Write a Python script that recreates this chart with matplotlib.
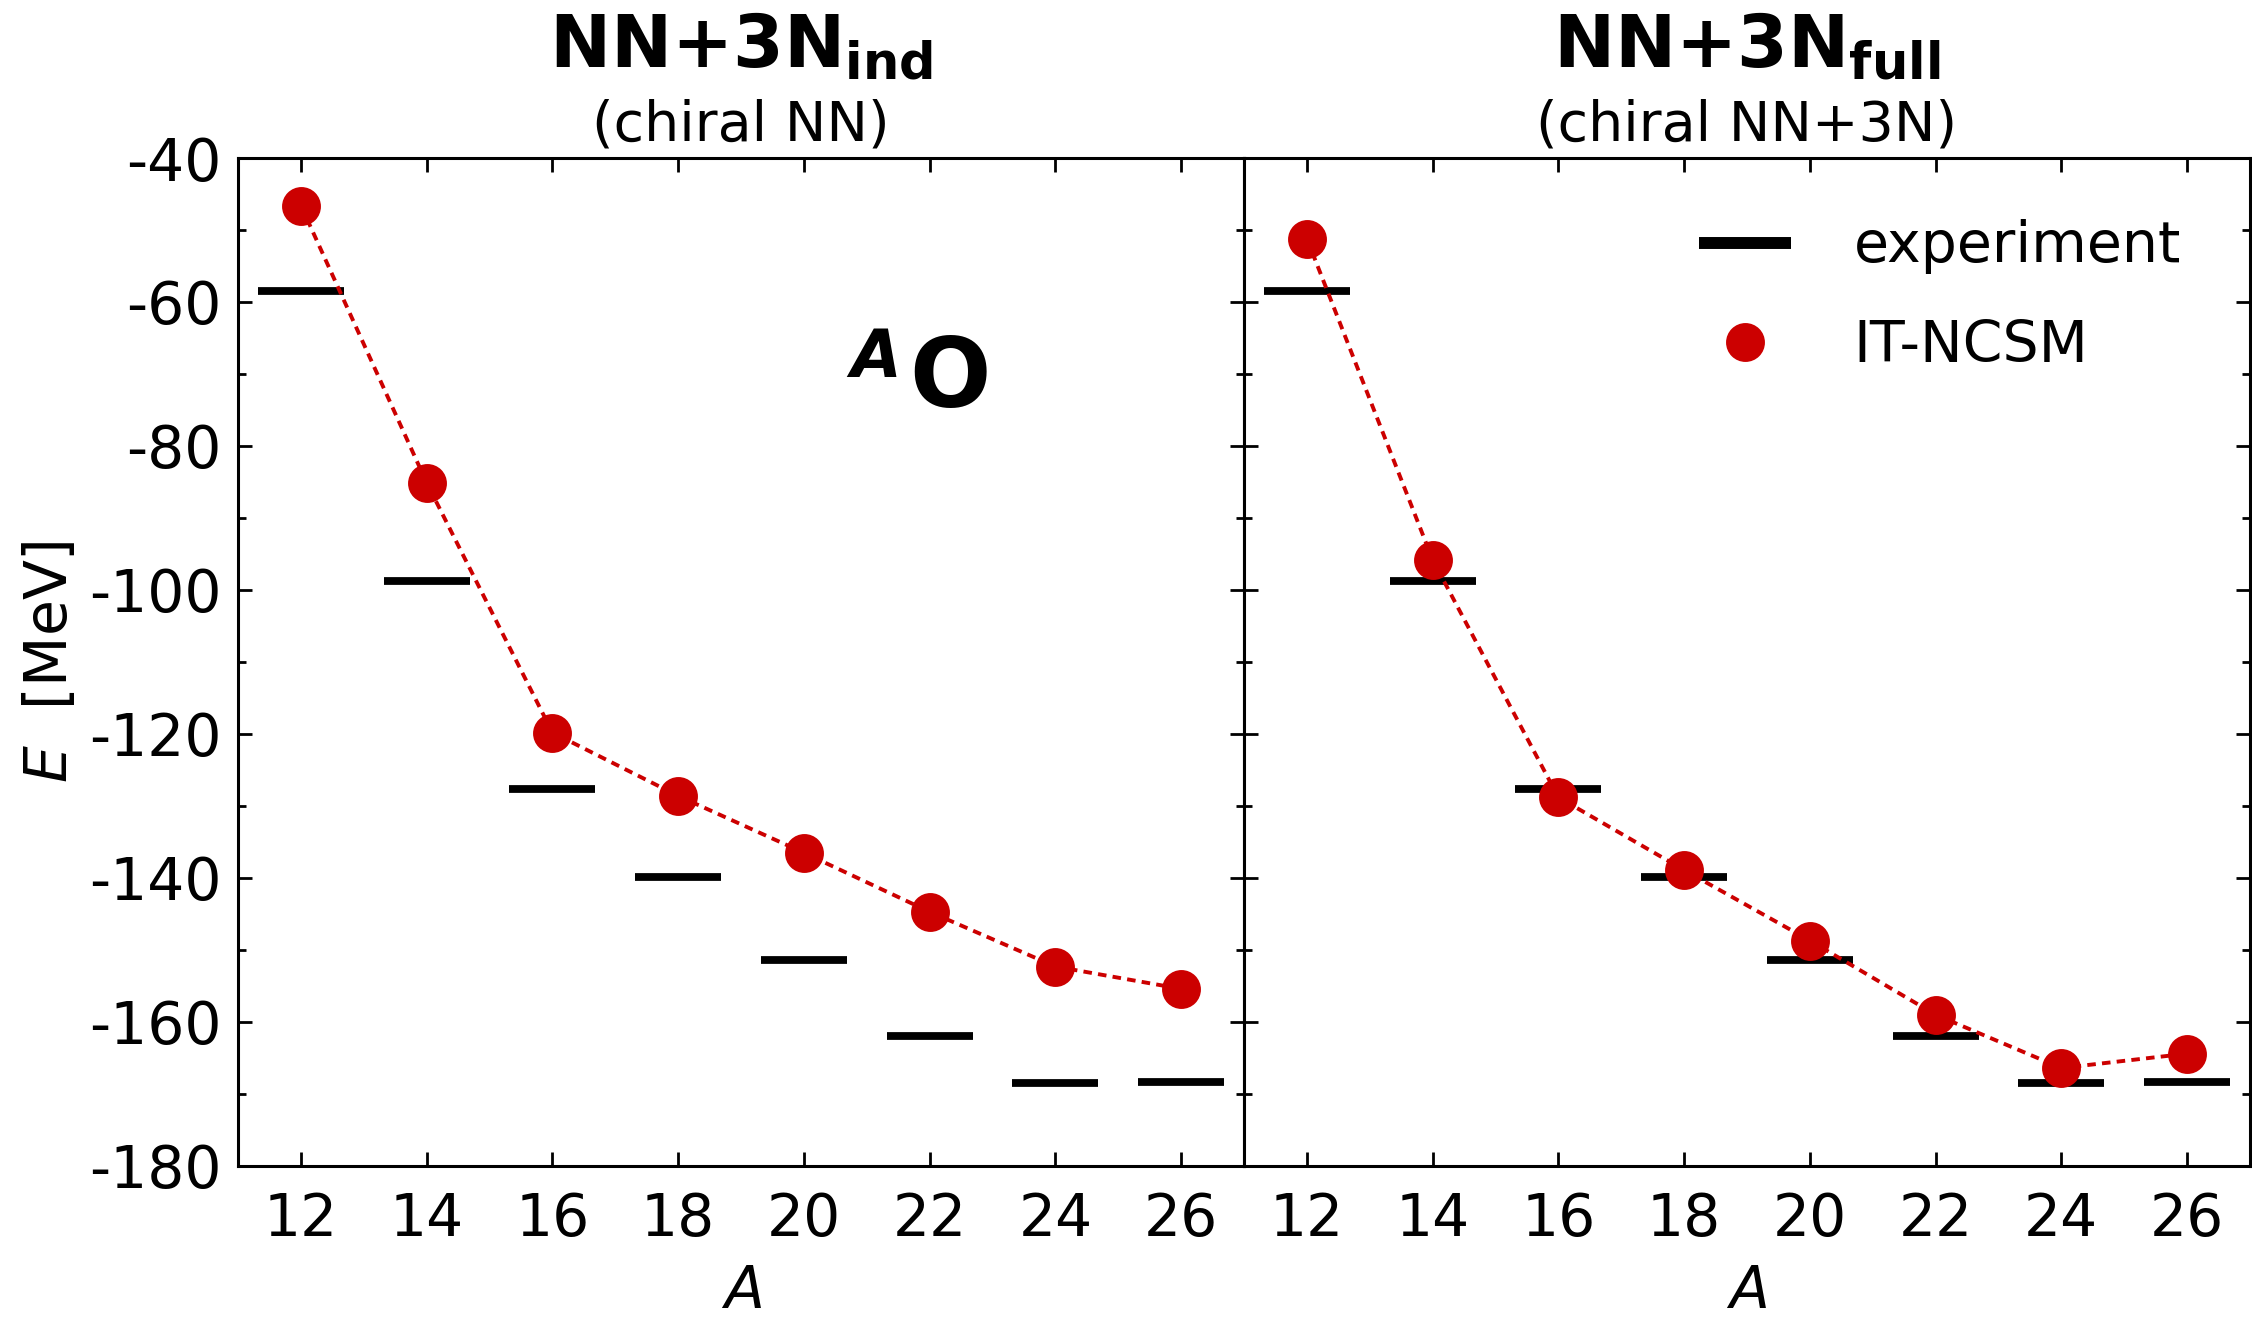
import numpy as np
import matplotlib
matplotlib.use("Agg")
import matplotlib.pyplot as plt
from matplotlib.ticker import MultipleLocator

plt.rcParams["font.family"] = ["DejaVu Sans"]
plt.rcParams["mathtext.fontset"] = "dejavusans"
plt.rcParams["axes.unicode_minus"] = False

# mass number of the oxygen isotopes
mass_number = [12, 14, 16, 18, 20, 22, 24, 26]

# experimental ground-state energies (MeV)
e_experiment = [-58.5, -98.8, -127.6, -139.8, -151.4, -162.0, -168.5, -168.3]

# IT-NCSM with induced 3N only (chiral NN)
e_ncsm_ind = [-46.6, -85.1, -119.8, -128.6, -136.5, -144.7, -152.3, -155.4]

# IT-NCSM with full 3N (chiral NN+3N)
e_ncsm_full = [-51.2, -95.8, -128.8, -138.9, -148.7, -159.0, -166.4, -164.4]

panel_titles = [r"$\mathbf{NN{+}3N_{ind}}$", r"$\mathbf{NN{+}3N_{full}}$"]
panel_subtitles = ["(chiral NN)", "(chiral NN+3N)"]
panel_data = [e_ncsm_ind, e_ncsm_full]

red = "#cc0000"

fig = plt.figure(figsize=(11.26, 6.6), dpi=200)
ax_left = fig.add_axes([0.1057, 0.1167, 0.4467, 0.7636])
ax_right = fig.add_axes([0.5524, 0.1167, 0.4467, 0.7636], sharey=ax_left)

for i, ax in enumerate([ax_left, ax_right]):
    ax.plot(mass_number, e_experiment, "_", color="black", markersize=31,
            markeredgewidth=2.8, linestyle="none", label="experiment", zorder=2)
    ax.plot(mass_number, panel_data[i], color=red, linewidth=1.4,
            dashes=(2.2, 1.6), zorder=3)
    ax.plot(mass_number, panel_data[i], "o", color=red, markersize=13,
            linestyle="none", label="IT-NCSM", zorder=4)

    ax.set_xlim(11, 27)
    ax.set_ylim(-180, -40)
    ax.set_xticks(np.arange(12, 27, 2))
    ax.yaxis.set_major_locator(MultipleLocator(20))
    ax.yaxis.set_minor_locator(MultipleLocator(10))
    ax.tick_params(which="both", direction="in", top=True, right=True,
                   width=1.0, labelsize=21)
    ax.tick_params(which="major", length=5)
    ax.tick_params(which="minor", length=3)
    ax.tick_params(axis="x", pad=9)
    ax.tick_params(axis="y", pad=6)
    for sp in ax.spines.values():
        sp.set_linewidth(1.1)

    ax.set_xlabel(r"$A$", fontsize=21, labelpad=5.5)

    ax.text(0.5, 1.0893, panel_titles[i], transform=ax.transAxes,
            ha="center", va="baseline", fontsize=26.3)
    ax.text(0.5, 1.0169, panel_subtitles[i], transform=ax.transAxes,
            ha="center", va="baseline", fontsize=20)

ax_right.tick_params(axis="y", labelleft=False)
ax_left.set_ylabel(r"$E$  [MeV]", fontsize=21)
ax_left.yaxis.set_label_coords(-0.158, 0.5)

# nucleus label
ax_left.text(0.609, 0.783, "A", transform=ax_left.transAxes, ha="left",
             va="baseline", fontsize=23.7, fontweight="bold", fontstyle="italic")
ax_left.text(0.667, 0.753, "O", transform=ax_left.transAxes, ha="left",
             va="baseline", fontsize=34.5, fontweight="bold")

leg = ax_right.legend(loc="upper left", bbox_to_anchor=(0.453, 0.939),
                      frameon=False, fontsize=20.5, borderpad=0,
                      borderaxespad=0, handlelength=1.6, handletextpad=1.1,
                      labelspacing=0.78, numpoints=1)
leg.legend_handles[0].set_markersize(33)
leg.legend_handles[0].set_markeredgewidth(4.3)

fig.savefig("out.png", dpi=200)
